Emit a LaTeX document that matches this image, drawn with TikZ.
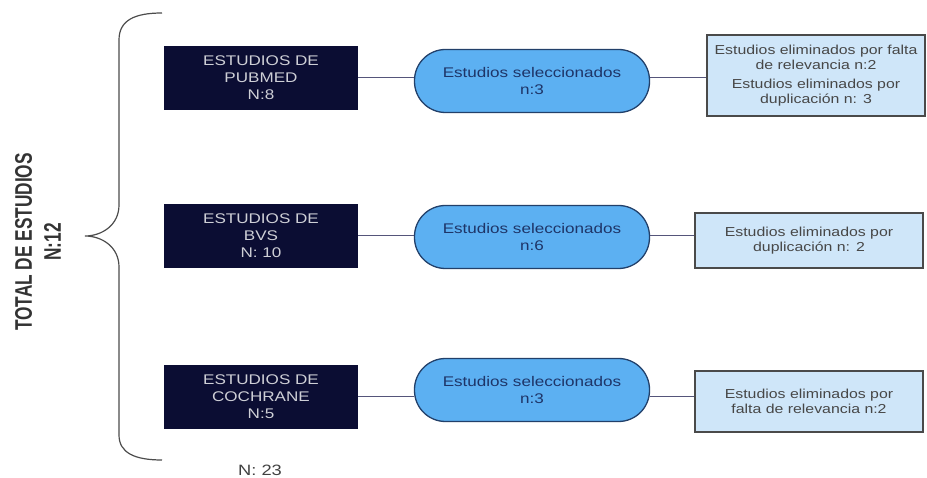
\documentclass[tikz,border=0pt]{standalone}
\usepackage{fontspec}
\setmainfont[FakeStretch=1.22]{Liberation Sans}
\newfontfamily\titlefont[FakeStretch=0.72]{Liberation Sans}
\usepackage{xcolor}
\definecolor{navy}{HTML}{0B0D33}
\definecolor{pillblue}{HTML}{5CB0F2}
\definecolor{pilledge}{HTML}{22406A}
\definecolor{pilltext}{HTML}{1E3568}
\definecolor{elim}{HTML}{CFE6F9}
\definecolor{elimedge}{HTML}{4A4A4A}
\definecolor{linkgray}{HTML}{55557A}
\usetikzlibrary{calc}

\tikzset{
source/.style={fill=navy, text=white!80!navy, minimum width=194pt, minimum height=64pt, inner sep=0pt, align=center, font=\fontsize{14}{17}\selectfont},
selected/.style={fill=pillblue, draw=pilledge, line width=1.3pt, rounded corners=31pt, minimum width=235pt, minimum height=63pt, inner sep=0pt, align=center, text=pilltext, font=\fontsize{14}{17}\selectfont},
removed/.style={fill=elim, draw=elimedge, line width=1.2pt, inner sep=0pt, align=center, text=black!72, font=\fontsize{13}{15.5}\selectfont},
connector/.style={draw=linkgray, line width=1pt}
}

\begin{document}
\begin{tikzpicture}[x=1pt, y=-1pt]
\useasboundingbox (0,0) rectangle (927,478);
% brace
\draw[line width=1.2pt, black!70] (162,13) .. controls (135,13) and (119,20) .. (119,40) -- (119,205) .. controls (119,225) and (102,236) .. (85,236) .. controls (102,236) and (119,247) .. (119,267) -- (119,435) .. controls (119,453) and (135,460) .. (162,460);
\node[rotate=90, align=center, text=black!80, font=\titlefont\bfseries\fontsize{24}{29}\selectfont] (total) at (38,242) {TOTAL DE ESTUDIOS\\N:12};
\node[text=black!75, font=\fontsize{15}{18}\selectfont] (grand) at (260,470) {N: 23};
% rows
\foreach \n/\y/\ys/\src/\sel in {1/78/81/{ESTUDIOS DE\\PUBMED\\N:8}/{n:3}, 2/236/237/{ESTUDIOS DE\\BVS\\N: 10}/{n:6}, 3/397/390/{ESTUDIOS DE\\COCHRANE\\N:5}/{n:3}}{
\node[source] (src\n) at (261,\y) {\src};
\node[selected] (sel\n) at (532,\ys) {Estudios seleccionados\\\sel};
}
\node[removed, minimum width=218pt, minimum height=81pt] (rem1) at (816,75.5) {Estudios eliminados por falta\\de relevancia n:2\\[3pt]Estudios eliminados por\\duplicación n: 3};
\node[removed, minimum width=228pt, minimum height=55pt] (rem2) at (809,240.5) {Estudios eliminados por\\duplicación n: 2};
\node[removed, minimum width=228pt, minimum height=61pt] (rem3) at (809,401.5) {Estudios eliminados por\\falta de relevancia n:2};
\foreach \n in {1,2,3}{
\draw[connector] (src\n.east) -- (src\n.east -| sel\n.west);
\draw[connector] (src\n.east -| sel\n.east) -- (src\n.east -| rem\n.west);
}
\end{tikzpicture}
\end{document}
